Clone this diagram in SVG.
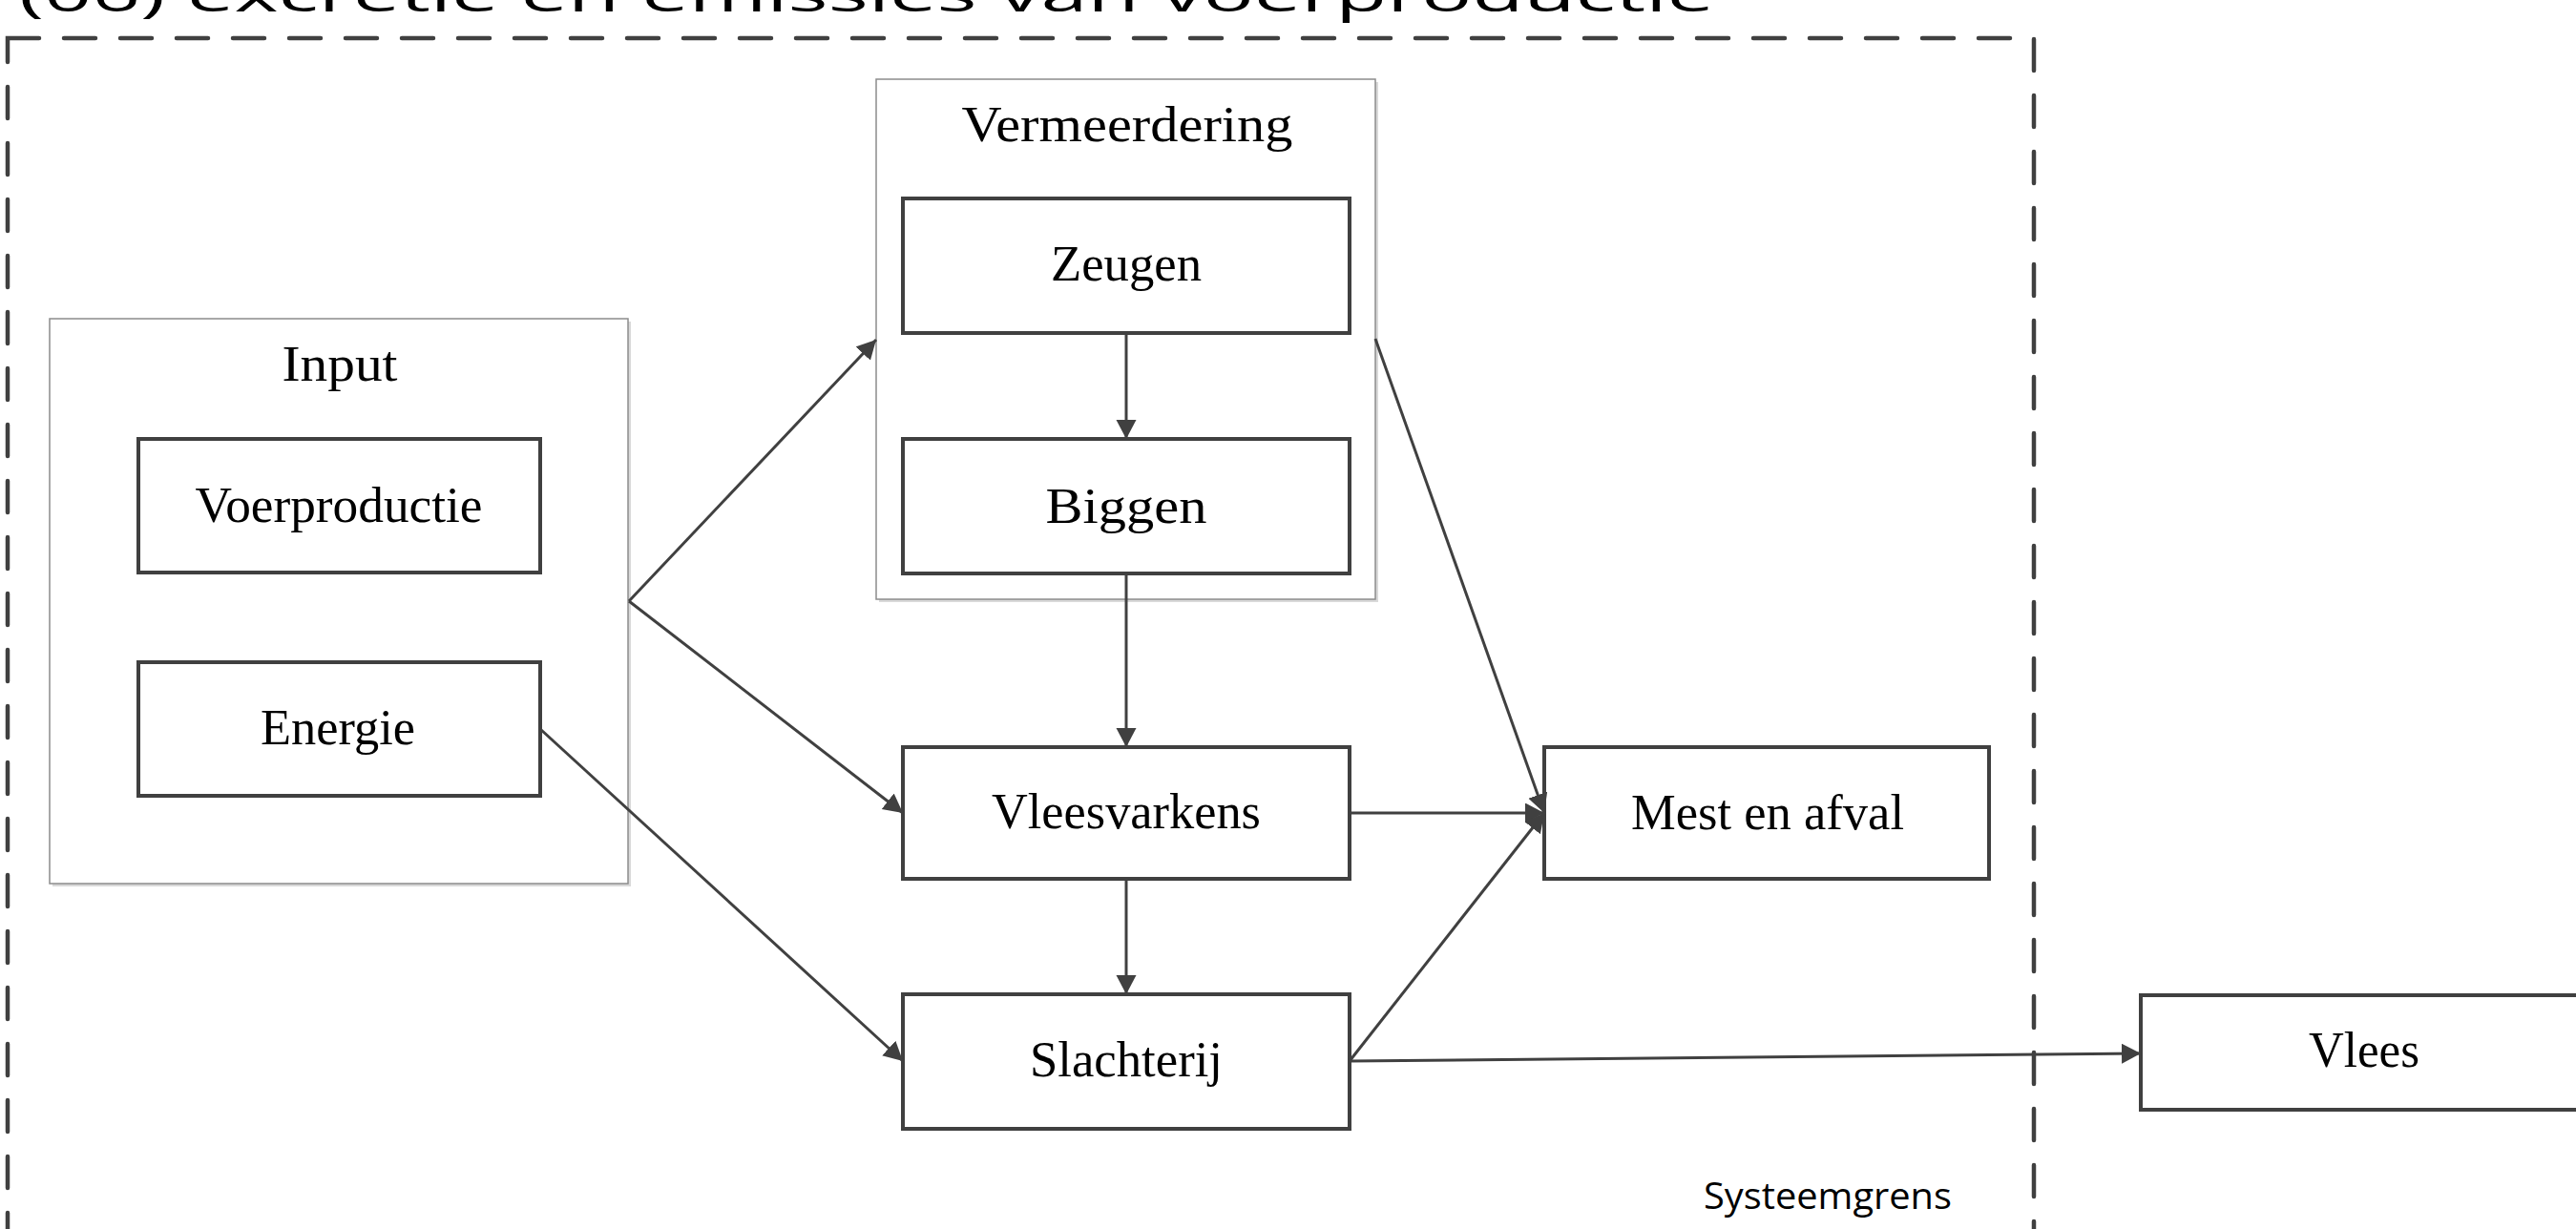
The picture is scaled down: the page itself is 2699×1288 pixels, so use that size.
<svg xmlns="http://www.w3.org/2000/svg" width="2699" height="1288" viewBox="0 0 2699 1288">
<defs>
<style>
.node{fill:#fff;stroke:#404040;stroke-width:4}
.cont{fill:#fff;stroke:#8c8c8c;stroke-width:1.5}
.shadow{fill:#d9d9d9}
.lbl{font-family:"Liberation Serif","Times New Roman",serif;font-size:53px;fill:#000;text-anchor:middle}
.conn{stroke:#404040;stroke-width:3;fill:none;marker-end:url(#ah)}
.sans{font-family:"Open Sans","Liberation Sans",sans-serif;fill:#000}
</style>
<marker id="ah" markerUnits="userSpaceOnUse" markerWidth="22" markerHeight="22" refX="20" refY="10.5" orient="auto" viewBox="0 0 22 22">
<path d="M0,0 L20,10.5 L0,21 z" fill="#404040"/>
</marker>
</defs>
<rect width="2699" height="1288" fill="#fff"/>

<g id="title">
<text class="sans" transform="translate(20,12) scale(1,0.55)" x="0" y="0" font-size="88" textLength="1776" lengthAdjust="spacingAndGlyphs">(06) excretie en emissies van voerproductie</text>
</g>

<g id="systeemgrens">
<rect x="8" y="40" width="2123" height="1400" fill="none" stroke="#404040" stroke-width="4.5" stroke-dasharray="33 26" stroke-linecap="round"/>
<text class="sans" x="1785" y="1267" font-size="38" textLength="260" lengthAdjust="spacingAndGlyphs">Systeemgrens</text>
</g>

<g id="input">
<rect class="shadow" x="55" y="337" width="606" height="592"/>
<rect class="cont" x="52" y="334" width="606" height="592"/>
<text class="lbl" x="356" y="399" textLength="121" lengthAdjust="spacingAndGlyphs">Input</text>
</g>
<g id="voerproductie">
<rect class="node" x="145" y="460" width="421" height="140"/>
<text class="lbl" x="355" y="547" textLength="301" lengthAdjust="spacingAndGlyphs">Voerproductie</text>
</g>
<g id="energie">
<rect class="node" x="145" y="694" width="421" height="140"/>
<text class="lbl" x="354" y="780" textLength="162" lengthAdjust="spacingAndGlyphs">Energie</text>
</g>

<g id="vermeerdering">
<rect class="shadow" x="921" y="86" width="523" height="545"/>
<rect class="cont" x="918" y="83" width="523" height="545"/>
<text class="lbl" x="1181" y="148" textLength="347" lengthAdjust="spacingAndGlyphs">Vermeerdering</text>
</g>
<g id="zeugen">
<rect class="node" x="946" y="208" width="468" height="141"/>
<text class="lbl" x="1180" y="294" textLength="158" lengthAdjust="spacingAndGlyphs">Zeugen</text>
</g>
<g id="biggen">
<rect class="node" x="946" y="460" width="468" height="141"/>
<text class="lbl" x="1180" y="548" font-size="56" textLength="169" lengthAdjust="spacingAndGlyphs">Biggen</text>
</g>
<g id="vleesvarkens">
<rect class="node" x="946" y="783" width="468" height="138"/>
<text class="lbl" x="1180" y="868" textLength="282" lengthAdjust="spacingAndGlyphs">Vleesvarkens</text>
</g>
<g id="slachterij">
<rect class="node" x="946" y="1042" width="468" height="141"/>
<text class="lbl" x="1180" y="1128" textLength="202" lengthAdjust="spacingAndGlyphs">Slachterij</text>
</g>
<g id="mest">
<rect class="node" x="1618" y="783" width="466" height="138"/>
<text class="lbl" x="1852" y="869" textLength="286" lengthAdjust="spacingAndGlyphs">Mest en afval</text>
</g>
<g id="vlees">
<rect class="node" x="2243" y="1043" width="470" height="120"/>
<text class="lbl" x="2477" y="1118" textLength="116" lengthAdjust="spacingAndGlyphs">Vlees</text>
</g>

<g id="connectors">
<line class="conn" x1="659" y1="630" x2="918" y2="356"/>
<line class="conn" x1="659" y1="630" x2="946" y2="852"/>
<line class="conn" x1="566" y1="764" x2="946" y2="1112"/>
<line class="conn" x1="1180" y1="349" x2="1180" y2="460"/>
<line class="conn" x1="1180" y1="601" x2="1180" y2="783"/>
<line class="conn" x1="1180" y1="921" x2="1180" y2="1042"/>
<line class="conn" x1="1414" y1="852" x2="1618" y2="852"/>
<line class="conn" x1="1441" y1="355" x2="1618" y2="852"/>
<line class="conn" x1="1414" y1="1112" x2="1618" y2="852"/>
<line class="conn" x1="1414" y1="1112" x2="2243" y2="1104"/>
</g>
</svg>
